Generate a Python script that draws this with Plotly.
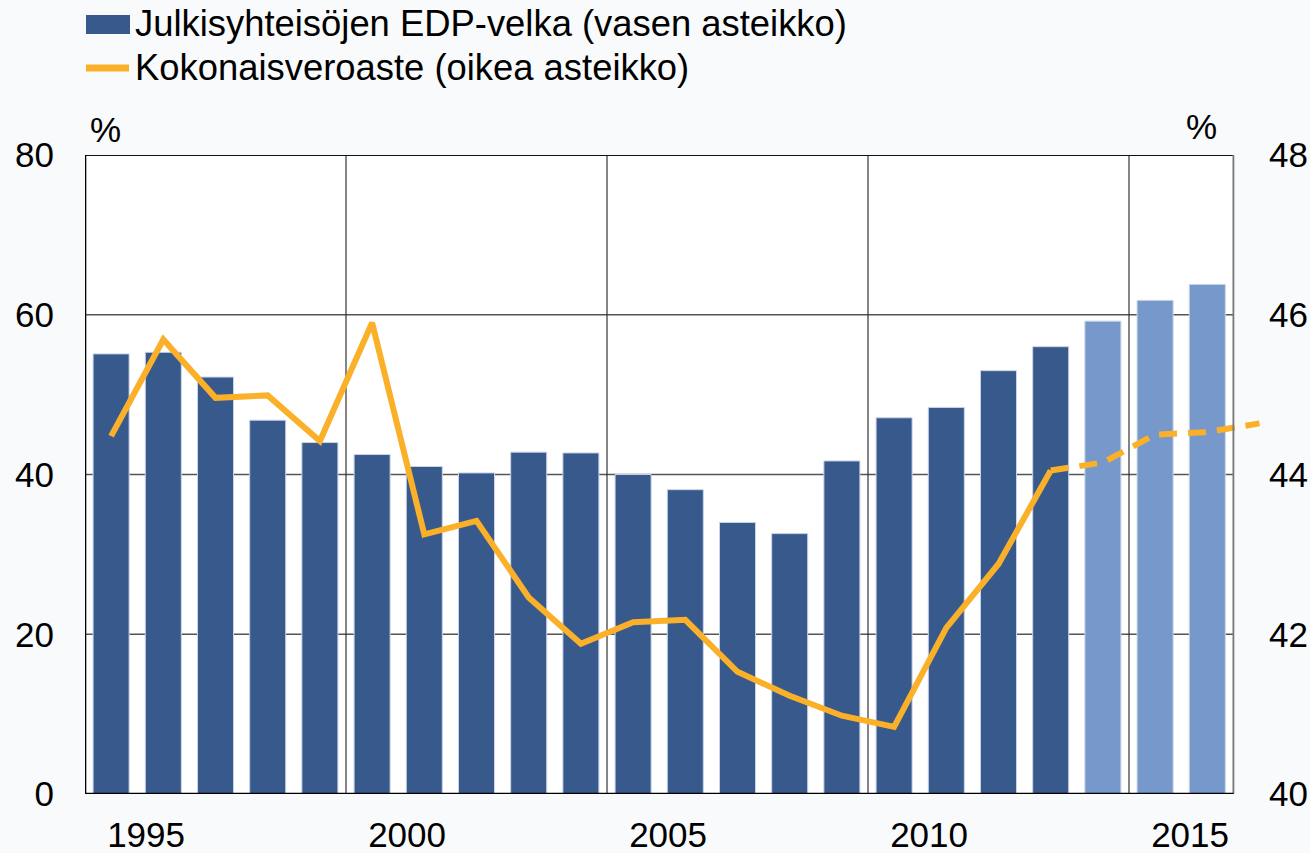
import plotly.graph_objects as go

# ---- data ----
years = list(range(1995, 2017))
debt = [55.1, 55.3, 52.2, 46.8, 44.0, 42.5, 41.0, 40.2, 42.8, 42.7, 40.0,
        38.1, 34.0, 32.6, 41.7, 47.1, 48.4, 53.0, 56.0, 59.2, 61.8, 63.8]
forecast_from = 2014  # bars from this year are forecasts

tax_years = list(range(1995, 2014))
tax = [44.48, 45.69, 44.96, 44.99, 44.42, 45.90, 43.25, 43.42, 42.46, 41.88,
       42.15, 42.18, 41.53, 41.23, 40.98, 40.84, 42.08, 42.88, 44.05]
tax_fc_years = [2013, 2014, 2015, 2016, 2017]
tax_fc = [44.05, 44.15, 44.50, 44.53, 44.64]

debt_name = "Julkisyhteisöjen EDP-velka (vasen asteikko)"
tax_name = "Kokonaisveroaste (oikea asteikko)"
label_years = [1995, 2000, 2005, 2010, 2015]
left_ticks = [0, 20, 40, 60, 80]
right_ticks = [40, 42, 44, 46, 48]

# ---- style ----
DARK = "#38598c"
LIGHT = "#7698cb"
ORANGE = "#fbb02a"
FONT = "Liberation Sans, Arial, sans-serif"
W, H = 1310, 853
# pixel frame of the plotting domain
L, R, T, B = 85, 1268, 155, 794
XMIN = 1994.5
PX_PER_YEAR = 52.2
XMAX = XMIN + (R - L) / PX_PER_YEAR
X_AXIS_END = 2016.5
TICK_SIZE = 35
LEG_SIZE = 36.4


def px(x):
    return (x - L) / (R - L)


def py(y):
    return (B - y) / (B - T)


fig = go.Figure()

colors = [LIGHT if y >= forecast_from else DARK for y in years]
fig.add_trace(go.Bar(
    x=years, y=debt, name=debt_name, width=0.69,
    marker=dict(color=colors, line=dict(color="#c9d4e8", width=1)),
    yaxis="y", showlegend=False))

fig.add_trace(go.Scatter(
    x=tax_years, y=tax, name=tax_name, mode="lines",
    line=dict(color=ORANGE, width=6), yaxis="y2", showlegend=False))
fig.add_trace(go.Scatter(
    x=tax_fc_years, y=tax_fc, name=tax_name, mode="lines",
    line=dict(color=ORANGE, width=6, dash="18px,11px"), yaxis="y2",
    showlegend=False))

shapes = []
# white plotting area
shapes.append(dict(type="rect", xref="x", yref="y", x0=XMIN, x1=X_AXIS_END,
                   y0=0, y1=80, fillcolor="white", line=dict(width=0),
                   layer="below"))
# horizontal gridlines
for v in left_ticks[1:-1]:
    shapes.append(dict(type="line", xref="x", yref="y", x0=XMIN, x1=X_AXIS_END,
                       y0=v, y1=v, line=dict(color="#555555", width=1.3),
                       layer="below"))
# vertical gridlines between groups of five years
for yv in label_years[1:]:
    xv = yv - 0.5
    shapes.append(dict(type="line", xref="x", yref="y", x0=xv, x1=xv,
                       y0=0, y1=80, line=dict(color="#333333", width=1.2),
                       layer="below"))
# frame
shapes.append(dict(type="line", xref="x", yref="y", x0=XMIN, x1=X_AXIS_END,
                   y0=80, y1=80, line=dict(color="#111111", width=1.8)))
shapes.append(dict(type="line", xref="x", yref="y", x0=X_AXIS_END, x1=X_AXIS_END,
                   y0=0, y1=80, line=dict(color="#777777", width=1.8)))
shapes.append(dict(type="line", xref="x", yref="y", x0=XMIN, x1=XMIN,
                   y0=0, y1=80, line=dict(color="#000000", width=2.6)))
shapes.append(dict(type="line", xref="x", yref="y", x0=XMIN, x1=X_AXIS_END,
                   y0=0, y1=0, line=dict(color="#000000", width=2.6)))
# legend symbols
shapes.append(dict(type="rect", xref="paper", yref="paper",
                   x0=px(86), x1=px(130), y0=py(34), y1=py(15),
                   fillcolor=DARK, line=dict(width=0)))
shapes.append(dict(type="line", xref="paper", yref="paper",
                   x0=px(86), x1=px(129), y0=py(68), y1=py(68),
                   line=dict(color=ORANGE, width=7)))

annotations = [
    dict(x=px(133), y=py(24), xref="paper", yref="paper", text=debt_name,
         showarrow=False, xanchor="left", yanchor="middle",
         font=dict(size=LEG_SIZE, color="black", family=FONT)),
    dict(x=px(133), y=py(67), xref="paper", yref="paper", text=tax_name,
         showarrow=False, xanchor="left", yanchor="middle",
         font=dict(size=LEG_SIZE, color="black", family=FONT)),
    dict(x=px(105), y=py(129), xref="paper", yref="paper", text="%",
         showarrow=False, xanchor="center", yanchor="middle",
         font=dict(size=TICK_SIZE, color="black", family=FONT)),
    dict(x=px(1201), y=py(126), xref="paper", yref="paper", text="%",
         showarrow=False, xanchor="center", yanchor="middle",
         font=dict(size=TICK_SIZE, color="black", family=FONT)),
]

tickfont = dict(size=TICK_SIZE, color="black", family=FONT)
fig.update_layout(
    width=W, height=H,
    margin=dict(l=L, r=W - R, t=T, b=H - B, pad=0, autoexpand=False),
    paper_bgcolor="#f9fafc", plot_bgcolor="rgba(0,0,0,0)",
    font=dict(family=FONT, size=TICK_SIZE, color="black"),
    shapes=shapes, annotations=annotations,
    xaxis=dict(range=[XMIN, XMAX], showgrid=False, zeroline=False,
               showline=False, tickmode="array", automargin=False,
               tickvals=[y + 0.67 for y in label_years],
               ticktext=[str(y) for y in label_years],
               ticks="outside", ticklen=10, tickcolor="rgba(0,0,0,0)",
               tickfont=tickfont),
    yaxis=dict(range=[0, 80], showgrid=False, zeroline=False, showline=False,
               tickmode="array", tickvals=left_ticks, automargin=False,
               ticks="outside", ticklen=23, tickcolor="rgba(0,0,0,0)",
               tickfont=tickfont),
    yaxis2=dict(range=[40, 48], overlaying="y", side="right", anchor="free",
                position=px(1236), showgrid=False, zeroline=False,
                automargin=False,
                showline=False, tickmode="array", tickvals=right_ticks,
                ticks="outside", ticklen=25, tickcolor="rgba(0,0,0,0)",
                tickfont=tickfont),
)

fig.write_html(
    "out.html",
    config={"displayModeBar": False},
    post_script="document.body.style.margin='0px';"
                "document.body.style.overflow='hidden';")
